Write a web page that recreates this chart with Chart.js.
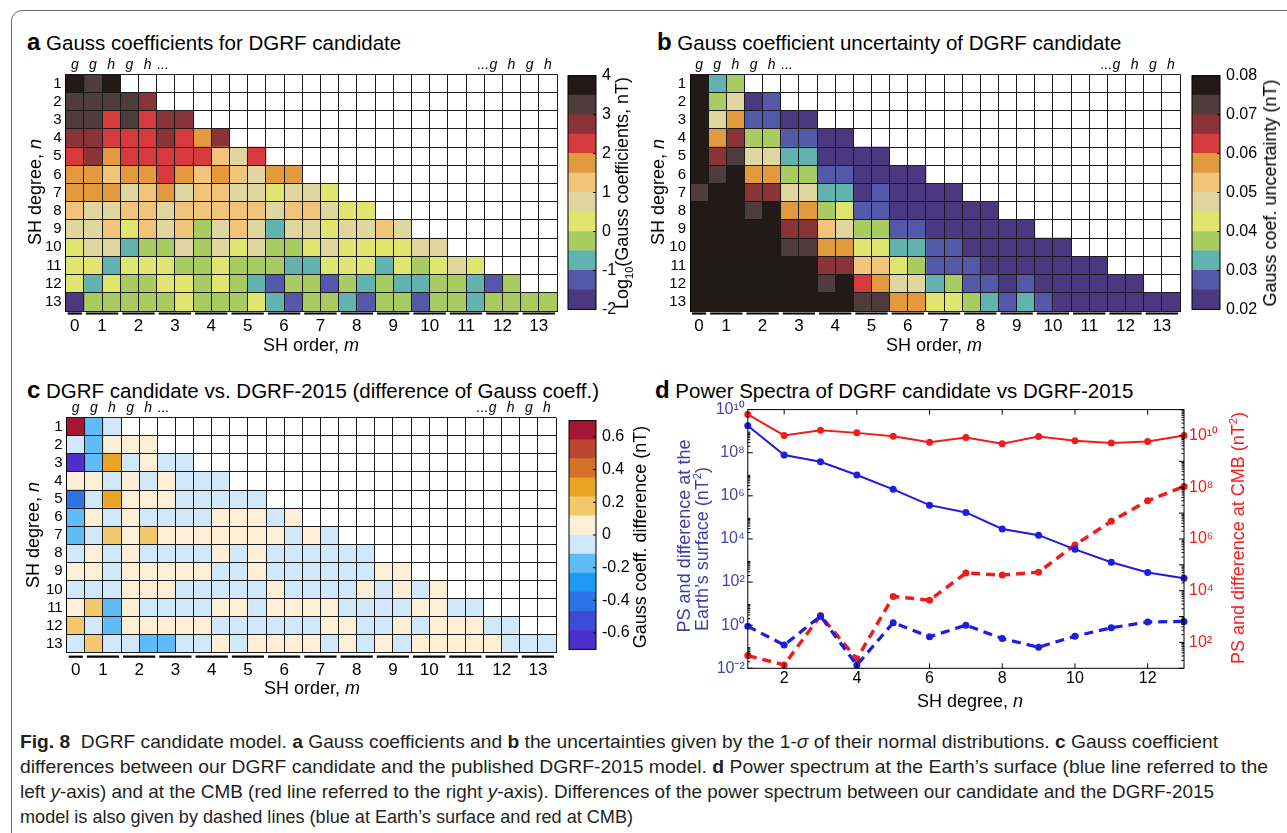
<!DOCTYPE html>
<html>
<head>
<meta charset="utf-8">
<script src="https://cdn.jsdelivr.net/npm/chart.js@4.4.1/dist/chart.umd.min.js"></script>
<style>
  html, body { margin: 0; padding: 0; }
  body { width: 1287px; height: 833px; position: relative; overflow: hidden; background: #fff;
         font-family: "Liberation Sans", Arial, sans-serif; color: #000; }
  .frame { position: absolute; left: 11px; top: 10px; width: 1400px; height: 1000px;
           border: 1px solid #6a6a6a; border-radius: 11px; }
  canvas { position: absolute; }
  .t { position: absolute; white-space: nowrap; line-height: 1; }
  .ttl { font-size: 20.5px; transform: translateY(-50%); }
  .ttl b { font-size: 24px; }
  .ax { font-size: 18px; }
  .ctr { transform: translate(-50%, -50%); }
  .rot { transform: translate(-50%, -50%) rotate(-90deg); }
  sub, sup { font-size: 0.62em; line-height: 0; }
  .cap { left: 20px; font-size: 19px; color: #231f20; transform-origin: 0 50%; transform: translateY(-50%); }
</style>
</head>
<body>
<div class="frame"></div>

<!-- panel titles -->
<div class="t ttl" style="left:27px;top:42px"><b>a</b> Gauss coefficients for DGRF candidate</div>
<div class="t ttl" style="left:657px;top:42px"><b>b</b> Gauss coefficient uncertainty of DGRF candidate</div>
<div class="t ttl" style="left:27px;top:390px"><b>c</b> DGRF candidate vs. DGRF-2015 (difference of Gauss coeff.)</div>
<div class="t ttl" style="left:655px;top:390px"><b>d</b> Power Spectra of DGRF candidate vs DGRF-2015</div>

<canvas id="hmA" width="560" height="300" style="left:0;top:50px"></canvas>
<canvas id="cbA" width="60" height="265" style="left:560px;top:60px"></canvas>
<canvas id="hmB" width="545" height="300" style="left:640px;top:50px"></canvas>
<canvas id="cbB" width="85" height="265" style="left:1185px;top:60px"></canvas>
<canvas id="hmC" width="560" height="297" style="left:0;top:393px"></canvas>
<canvas id="cbC" width="80" height="260" style="left:560px;top:405px"></canvas>
<canvas id="psD" width="647" height="320" style="left:640px;top:395px"></canvas>

<!-- axis titles -->
<div class="t ax rot" style="left:35px;top:192px">SH degree, <i>n</i></div>
<div class="t ax ctr" style="left:311px;top:345px">SH order, <i>m</i></div>
<div class="t ax rot" style="left:622px;top:193px">Log<sub>10</sub>(Gauss coefficients, nT)</div>

<div class="t ax rot" style="left:658px;top:192px">SH degree, <i>n</i></div>
<div class="t ax ctr" style="left:934px;top:345px">SH order, <i>m</i></div>
<div class="t ax rot" style="left:1270px;top:193px">Gauss coef. uncertainty (nT)</div>

<div class="t ax rot" style="left:33px;top:535px">SH degree, <i>n</i></div>
<div class="t ax ctr" style="left:312px;top:688px">SH order, <i>m</i></div>
<div class="t ax rot" style="left:640px;top:537px">Gauss coeff. difference (nT)</div>

<div class="t ax ctr" style="left:970px;top:701px">SH degree, <i>n</i></div>
<div class="t ax rot" style="left:684px;top:536px;color:#3e3ea5">PS and difference at the</div>
<div class="t ax rot" style="left:702px;top:549px;color:#3e3ea5">Earth’s surface (nT<sup>2</sup>)</div>
<div class="t ax rot" style="left:1238px;top:538px;color:#f02020">PS and difference at CMB (nT<sup>2</sup>)</div>

<!-- caption -->
<div class="t cap" data-w="1198" style="top:741px"><b>Fig. 8</b>&nbsp; DGRF candidate model. <b>a</b> Gauss coefficients and <b>b</b> the uncertainties given by the 1-<i>σ</i> of their normal distributions. <b>c</b> Gauss coefficient</div>
<div class="t cap" data-w="1248" style="top:766px">differences between our DGRF candidate and the published DGRF-2015 model. <b>d</b> Power spectrum at the Earth’s surface (blue line referred to the</div>
<div class="t cap" data-w="1194" style="top:791px">left <i>y</i>-axis) and at the CMB (red line referred to the right <i>y</i>-axis). Differences of the power spectrum between our candidate and the DGRF-2015</div>
<div class="t cap" data-w="613" style="top:816px">model is also given by dashed lines (blue at Earth’s surface and red at CMB)</div>

<script>
// rows are SH degree n = 1..13, columns g_n^0, g_n^1, h_n^1, ... g_n^n, h_n^n
const degreeLabels = ['1', '2', '3', '4', '5', '6', '7', '8', '9', '10', '11', '12', '13'];
const orders = [0, 1, 2, 3, 4, 5, 6, 7, 8, 9, 10, 11, 12, 13];
const nCols = 27;

// a: log10 |Gauss coefficient| (nT)
const gaussLog10 = [
  [3.7, 3.3, 3.7],
  [3.3, 3.3, 3.3, 3.3, 2.8],
  [3.3, 3.3, 2.3, 3.3, 2.3, 2.8, 2.8],
  [2.8, 2.8, 2.3, 2.3, 2.3, 2.8, 2.3, 1.8, 2.8],
  [2.3, 2.8, 1.8, 2.3, 2.3, 2.3, 2.3, 2.3, 1.2, 0.8, 2.3],
  [1.8, 1.8, 1.2, 1.8, 1.8, 2.3, 1.8, 1.2, 1.8, 1.2, 0.8, 1.8, 1.8],
  [1.8, 1.8, 1.8, 0.8, 1.2, 1.8, 0.8, 1.2, 1.2, 0.8, 0.8, 0.3, 0.8, 0.8, 0.3],
  [1.2, 0.8, 0.8, 1.2, 1.2, 0.8, 1.2, 1.2, 1.2, 1.2, 1.2, 0.8, 1.2, 1.2, 0.8, 0.3, 0.3],
  [0.8, 0.8, 1.2, 0.3, 1.2, 0.8, 1.2, -0.3, 0.8, 1.2, 0.8, -0.8, 0.8, 0.8, 0.3, 0.8, 0.8, 1.2, 0.8],
  [0.3, 0.8, 0.8, -0.8, -0.3, -0.3, 0.8, -0.3, 0.8, 0.3, 0.8, -0.3, -0.3, 0.3, 0.8, 0.3, 0.3, 0.3, 0.3, 0.8, 0.8],
  [0.3, 0.3, -0.8, 0.3, 0.3, 0.3, -0.3, -0.3, 0.3, -0.3, -0.3, -0.3, -0.8, -0.8, 0.3, 0.3, 0.3, -0.8, 0.3, -0.3, 0.3, 0.8, 0.3],
  [0.3, -0.8, 0.3, -0.3, -0.3, 0.3, 0.3, -0.3, 0.3, -0.3, -0.8, -1.2, -0.3, -0.3, -1.2, -0.3, -0.8, -0.3, -0.8, -0.8, -0.3, -0.3, -0.8, -1.2, -0.3],
  [-1.8, -0.3, -0.3, -0.3, -0.3, -0.3, 0.3, -0.3, -0.3, -0.3, 0.3, -0.8, -1.2, -0.3, -0.3, -0.8, -1.2, -0.3, -0.3, -1.2, -0.3, -0.3, -0.8, -0.3, -0.3, -0.3, -0.3]
];

// b: 1-sigma uncertainty (nT)
const gaussSigma = [
  [0.085, 0.032, 0.037],
  [0.085, 0.037, 0.047, 0.022, 0.027],
  [0.085, 0.047, 0.057, 0.027, 0.027, 0.022, 0.022],
  [0.085, 0.057, 0.067, 0.037, 0.037, 0.027, 0.027, 0.022, 0.022],
  [0.085, 0.067, 0.072, 0.047, 0.047, 0.032, 0.032, 0.022, 0.022, 0.022, 0.022],
  [0.085, 0.072, 0.085, 0.057, 0.057, 0.037, 0.037, 0.027, 0.027, 0.022, 0.022, 0.022, 0.022],
  [0.072, 0.085, 0.085, 0.067, 0.067, 0.047, 0.047, 0.032, 0.032, 0.022, 0.027, 0.022, 0.022, 0.022, 0.022],
  [0.085, 0.085, 0.085, 0.072, 0.085, 0.057, 0.057, 0.037, 0.042, 0.027, 0.027, 0.022, 0.022, 0.022, 0.022, 0.022, 0.022],
  [0.085, 0.085, 0.085, 0.085, 0.085, 0.067, 0.067, 0.052, 0.047, 0.037, 0.037, 0.027, 0.027, 0.022, 0.022, 0.022, 0.022, 0.022, 0.022],
  [0.085, 0.085, 0.085, 0.085, 0.085, 0.072, 0.072, 0.057, 0.057, 0.042, 0.042, 0.032, 0.032, 0.027, 0.027, 0.022, 0.022, 0.022, 0.022, 0.022, 0.022],
  [0.085, 0.085, 0.085, 0.085, 0.085, 0.085, 0.085, 0.067, 0.067, 0.052, 0.052, 0.042, 0.037, 0.027, 0.027, 0.027, 0.022, 0.022, 0.022, 0.022, 0.022, 0.022, 0.022],
  [0.085, 0.085, 0.085, 0.085, 0.085, 0.085, 0.085, 0.072, 0.085, 0.062, 0.057, 0.047, 0.047, 0.032, 0.037, 0.027, 0.027, 0.022, 0.027, 0.022, 0.022, 0.022, 0.022, 0.022, 0.022],
  [0.085, 0.085, 0.085, 0.085, 0.085, 0.085, 0.085, 0.085, 0.085, 0.072, 0.072, 0.057, 0.057, 0.042, 0.042, 0.037, 0.032, 0.027, 0.032, 0.027, 0.022, 0.022, 0.022, 0.022, 0.022, 0.022, 0.022]
];

// c: candidate minus DGRF-2015 (nT)
const gaussDiff = [
  [0.64, -0.17, -0.05],
  [-0.05, -0.17, 0.05, 0.05, 0.05],
  [-0.64, -0.17, 0.29, -0.05, 0.05, -0.05, -0.05],
  [0.05, 0.05, -0.05, 0.05, -0.05, 0.05, -0.05, -0.05, -0.05],
  [-0.41, -0.05, 0.29, 0.05, 0.05, 0.05, -0.05, -0.05, -0.05, -0.05, -0.05],
  [-0.17, 0.05, -0.05, 0.05, -0.05, -0.05, -0.05, -0.05, 0.05, 0.05, 0.05, -0.05, 0.05],
  [-0.17, -0.05, 0.17, 0.05, 0.17, 0.05, 0.05, 0.05, 0.05, 0.05, 0.05, 0.05, -0.05, 0.05, -0.05],
  [-0.05, 0.05, -0.05, 0.05, -0.05, -0.05, -0.05, -0.05, 0.05, -0.05, 0.05, -0.05, -0.05, -0.05, -0.05, -0.05, -0.05],
  [0.05, 0.05, -0.05, 0.05, 0.05, 0.05, 0.05, 0.05, -0.05, -0.05, 0.05, -0.05, -0.05, -0.05, -0.05, -0.05, -0.05, 0.05, 0.05],
  [-0.05, -0.05, -0.05, 0.05, 0.05, 0.05, -0.05, -0.05, -0.05, -0.05, -0.05, 0.05, -0.05, -0.05, -0.05, -0.05, 0.05, -0.05, 0.05, -0.05, 0.05],
  [0.05, 0.17, -0.17, 0.05, -0.05, -0.05, -0.05, -0.05, 0.05, 0.05, -0.05, 0.05, 0.05, 0.05, 0.05, -0.05, -0.05, -0.05, -0.05, 0.05, 0.05, -0.05, -0.05],
  [0.17, -0.05, -0.17, 0.05, 0.05, 0.05, 0.05, 0.05, -0.05, -0.05, -0.05, -0.05, -0.05, -0.05, 0.05, 0.05, -0.05, -0.05, 0.05, -0.05, 0.05, 0.05, 0.05, -0.05, -0.05],
  [-0.05, 0.17, -0.05, -0.05, -0.17, -0.17, -0.05, -0.05, 0.05, -0.05, 0.05, 0.05, 0.05, 0.05, -0.05, 0.05, -0.05, 0.05, -0.05, 0.05, 0.05, 0.05, 0.05, 0.05, -0.05, -0.05, -0.05]
];

// d: power spectra (nT^2)
const spectrumDegrees = [1, 2, 3, 4, 5, 6, 7, 8, 9, 10, 11, 12, 13];
const psSurface = [1.8e9, 7.8e7, 3.8e7, 9.3e6, 2.0e6, 3.7e5, 1.7e5, 2.9e4, 1.5e4, 3.3e3, 830, 280, 150];
const psSurfaceDiff = [0.89, 0.12, 2.6, 0.014, 1.3, 0.29, 1.0, 0.24, 0.095, 0.31, 0.76, 1.4, 1.5];
const psCmb = [6.5e10, 1.0e10, 1.6e10, 1.26e10, 9.3e9, 5.5e9, 8.3e9, 4.8e9, 9.1e9, 6.2e9, 5.1e9, 5.8e9, 1.0e10];
const psCmbDiff = [31, 13.5, 1.1e3, 23, 6.0e3, 4.3e3, 4.8e4, 4.0e4, 5.2e4, 5.9e5, 4.8e6, 3.0e7, 1.07e8];

// colour scales
const logLevels = [-2, -1.5, -1, -0.5, 0, 0.5, 1, 1.5, 2, 2.5, 3, 3.5, 4];
const sigmaLevels = [0.02, 0.025, 0.03, 0.035, 0.04, 0.045, 0.05, 0.055, 0.06, 0.065, 0.07, 0.075, 0.08];
const diffLevels = [-0.7, -0.583, -0.467, -0.35, -0.233, -0.117, 0, 0.117, 0.233, 0.35, 0.467, 0.583, 0.7];
const seqPalette = ['#4a3880', '#5458a8', '#62b3b0', '#a8cb62', '#dfe56e', '#e0d6a0',
                    '#f0c47a', '#e39a3e', '#d63a3c', '#8a3338', '#4f3c3c', '#231a18'];
const divPalette = ['#4c2fcc', '#3c4cd8', '#2a72e6', '#1f9af2', '#60bcf8', '#d0e8fa',
                    '#fcefd6', '#f2c86c', '#e8a422', '#d4702a', '#bd4630', '#a41634'];

Chart.defaults.font.family = '"Liberation Sans", Arial, sans-serif';
Chart.defaults.color = '#000';

function levelColor(v, levels, pal) {
  let k = 0;
  while (k < pal.length - 1 && v >= levels[k + 1]) k++;
  return pal[k];
}

const orderPos = orders.map(m => m === 0 ? 0.5 : 2 * m);
const orderSpans = orders.map(m => m === 0 ? [0, 1] : [2 * m - 1, 2 * m + 1]);
const coefPos = [0.5, 1.5, 2.5, 3.5, 4.5, 5.35, 22.95, 23.5, 24.5, 25.5, 26.5];
const coefText = ['g', 'g', 'h', 'g', 'h', '...', '...', 'g', 'h', 'g', 'h'];

// black bars under each order group
const orderBars = {
  id: 'orderBars',
  afterDraw(chart, args, opts) {
    const x = chart.scales.x, ctx = chart.ctx;
    const y = chart.chartArea.bottom + opts.gap;
    ctx.save();
    ctx.strokeStyle = '#000';
    ctx.lineWidth = 2.2;
    orderSpans.forEach(([a, b]) => {
      ctx.beginPath();
      ctx.moveTo(x.getPixelForValue(a) + 2, y);
      ctx.lineTo(x.getPixelForValue(b) - 2, y);
      ctx.stroke();
    });
    ctx.restore();
  }
};

function heatmap(id, rows, levels, pal, g) {
  const datasets = [];
  for (let j = 0; j < nCols; j++) {
    datasets.push({
      data: rows.map(r => j < r.length ? [j, j + 1] : null),
      backgroundColor: rows.map(r => j < r.length ? levelColor(r[j], levels, pal) : 'rgba(0,0,0,0)'),
      borderWidth: 0,
      grouped: false,
      barPercentage: 1,
      categoryPercentage: 1
    });
  }
  const edges = [];
  for (let j = 0; j <= nCols; j++) edges.push({ value: j });
  return new Chart(document.getElementById(id), {
    type: 'bar',
    data: { labels: degreeLabels, datasets },
    options: {
      indexAxis: 'y',
      responsive: false,
      animation: false,
      layout: { padding: { left: 0, top: 0, right: g.right, bottom: 0 } },
      plugins: { legend: { display: false }, tooltip: { enabled: false }, orderBars: { gap: g.gap } },
      scales: {
        x: {
          type: 'linear', min: 0, max: nCols, position: 'bottom',
          ticks: { display: false },
          grid: { color: '#1a1a1a', lineWidth: 1, drawTicks: false, z: 1 },
          border: { color: '#000', z: 1 },
          afterBuildTicks: s => { s.ticks = edges.slice(); },
          afterFit: s => { s.height = 0; }
        },
        xm: {
          type: 'linear', min: 0, max: nCols, position: 'bottom',
          grid: { display: false, drawTicks: false }, border: { display: false },
          ticks: { autoSkip: false, maxRotation: 0, padding: g.mPad, font: { size: 17 },
                   callback: (v, i) => String(orders[i]) },
          afterBuildTicks: s => { s.ticks = orderPos.map(v => ({ value: v })); },
          afterFit: s => { s.height = g.bottom; }
        },
        xt: {
          type: 'linear', min: 0, max: nCols, position: 'top',
          grid: { display: false, drawTicks: false }, border: { display: false },
          ticks: { autoSkip: false, maxRotation: 0, padding: 1, font: { size: 14, style: 'italic' },
                   callback: (v, i) => coefText[i] },
          afterBuildTicks: s => { s.ticks = coefPos.map(v => ({ value: v })); },
          afterFit: s => { s.height = g.top; }
        },
        y: {
          type: 'category', offset: true,
          grid: { offset: true, color: '#1a1a1a', lineWidth: 1, drawTicks: false, z: 1 },
          border: { color: '#000', z: 1 },
          ticks: { autoSkip: false, padding: 4, font: { size: 15 } },
          afterFit: s => { s.width = g.left; }
        }
      }
    },
    plugins: [orderBars]
  });
}

// frame + small inner ticks for the colour bars
const barFrame = {
  id: 'barFrame',
  afterDraw(chart) {
    const { ctx, chartArea: a } = chart;
    const y = chart.scales.y;
    ctx.save();
    ctx.strokeStyle = '#000';
    ctx.lineWidth = 1;
    ctx.strokeRect(a.left, a.top, a.right - a.left, a.bottom - a.top);
    ctx.beginPath();
    y.ticks.forEach(t => {
      const p = y.getPixelForValue(t.value);
      ctx.moveTo(a.right - 3, p);
      ctx.lineTo(a.right, p);
    });
    ctx.stroke();
    ctx.restore();
  }
};

function colorbar(id, levels, pal, tickVals, fmt, g) {
  return new Chart(document.getElementById(id), {
    type: 'bar',
    data: {
      labels: [''],
      datasets: pal.map((c, i) => ({
        data: [[levels[i], levels[i + 1]]],
        backgroundColor: c, borderWidth: 0,
        grouped: false, barPercentage: 1, categoryPercentage: 1
      }))
    },
    options: {
      responsive: false,
      animation: false,
      layout: { padding: { left: g.left, top: g.top, bottom: g.bottom, right: 0 } },
      plugins: { legend: { display: false }, tooltip: { enabled: false } },
      scales: {
        x: { display: false },
        y: {
          position: 'right', min: levels[0], max: levels[levels.length - 1],
          grid: { display: false, drawTicks: false }, border: { display: false },
          ticks: { padding: 6, font: { size: 16 }, callback: v => fmt(v) },
          afterBuildTicks: s => { s.ticks = tickVals.map(v => ({ value: v })); },
          afterFit: s => { s.width = g.width; }
        }
      }
    },
    plugins: [barFrame]
  });
}

heatmap('hmA', gaussLog10, logLevels, seqPalette, { left: 65.7, top: 24.3, bottom: 39, right: 3, mPad: 5.5, gap: 2.5 });
heatmap('hmB', gaussSigma, sigmaLevels, seqPalette, { left: 50, top: 24.3, bottom: 39, right: 5, mPad: 5.5, gap: 2.5 });
heatmap('hmC', gaussDiff, diffLevels, divPalette, { left: 66.7, top: 24.7, bottom: 37.3, right: 4, mPad: 7, gap: 4 });

colorbar('cbA', logLevels, seqPalette, [-2, -1, 0, 1, 2, 3, 4], v => String(v),
         { left: 8, top: 14.3, bottom: 14, width: 24 });
colorbar('cbB', sigmaLevels, seqPalette, [0.02, 0.03, 0.04, 0.05, 0.06, 0.07, 0.08], v => v.toFixed(2),
         { left: 7, top: 14.3, bottom: 14, width: 50 });
colorbar('cbC', diffLevels, divPalette, [-0.6, -0.4, -0.2, 0, 0.2, 0.4, 0.6], v => v === 0 ? '0' : v.toFixed(1),
         { left: 9, top: 12.7, bottom: 12.3, width: 44 });

// ---- d: power spectra ----
const SUP = { '-': '⁻', '0': '⁰', '1': '¹', '2': '²', '3': '³', '4': '⁴', '5': '⁵', '6': '⁶', '7': '⁷', '8': '⁸', '9': '⁹' };
const pow10Label = e => '10' + String(e).split('').map(c => SUP[c]).join('');
const leftDecades = [-2, -1, 0, 1, 2, 3, 4, 5, 6, 7, 8, 9, 10];
const rightDecades = [1, 2, 3, 4, 5, 6, 7, 8, 9, 10, 11];
const pts = vals => spectrumDegrees.map((n, i) => ({ x: n, y: vals[i] }));

const boxTicks = {
  id: 'boxTicks',
  afterDatasetsDraw(chart) {
    const { ctx, chartArea: a, scales } = chart;
    ctx.save();
    ctx.strokeStyle = '#000';
    ctx.lineWidth = 1;
    ctx.strokeRect(a.left, a.top, a.right - a.left, a.bottom - a.top);
    ctx.beginPath();
    scales.x.ticks.forEach(t => {
      const p = scales.x.getPixelForValue(t.value);
      ctx.moveTo(p, a.bottom); ctx.lineTo(p, a.bottom - 5);
      ctx.moveTo(p, a.top); ctx.lineTo(p, a.top + 5);
    });
    const minor = (scale, edge, dir) => {
      scale.ticks.forEach(t => {
        const p = scale.getPixelForValue(t.value);
        ctx.moveTo(edge, p); ctx.lineTo(edge + dir * 5, p);
        for (let k = 2; k <= 9; k++) {
          const v = t.value * k;
          if (v >= scale.max) break;
          const q = scale.getPixelForValue(v);
          ctx.moveTo(edge, q); ctx.lineTo(edge + dir * 2.5, q);
        }
      });
    };
    minor(scales.yL, a.left, 1);
    minor(scales.yR, a.right, -1);
    ctx.stroke();
    ctx.restore();
  }
};

const blue = '#1c1ce4', red = '#f01c1c';
new Chart(document.getElementById('psD'), {
  type: 'line',
  data: {
    datasets: [
      { data: pts(psSurface), yAxisID: 'yL', borderColor: blue, backgroundColor: blue, borderWidth: 2,
        pointRadius: 3.5, pointBorderWidth: 0, clip: false },
      { data: pts(psSurfaceDiff), yAxisID: 'yL', borderColor: blue, backgroundColor: blue, borderWidth: 3.2,
        borderDash: [9, 6], pointRadius: 3.5, pointBorderWidth: 0, clip: false },
      { data: pts(psCmb), yAxisID: 'yR', borderColor: red, backgroundColor: red, borderWidth: 2,
        pointRadius: 3.5, pointBorderWidth: 0, clip: false },
      { data: pts(psCmbDiff), yAxisID: 'yR', borderColor: red, backgroundColor: red, borderWidth: 3.5,
        borderDash: [9, 6], pointRadius: 3.5, pointBorderWidth: 0, clip: false }
    ]
  },
  options: {
    responsive: false,
    animation: false,
    layout: { padding: { left: 0, top: 13.3, right: 0, bottom: 0 } },
    plugins: { legend: { display: false }, tooltip: { enabled: false } },
    scales: {
      x: {
        type: 'linear', min: 1, max: 13,
        grid: { display: false, drawTicks: false }, border: { display: false },
        ticks: { padding: 1, font: { size: 16 } },
        afterBuildTicks: s => { s.ticks = [2, 4, 6, 8, 10, 12].map(v => ({ value: v })); },
        afterFit: s => { s.height = 46.7; }
      },
      yL: {
        type: 'logarithmic', position: 'left', min: 1e-2, max: 1e10,
        grid: { display: false, drawTicks: false }, border: { display: false },
        ticks: { padding: 3, color: '#4545a8', font: { size: 16 },
                 callback: v => { const e = Math.round(Math.log10(v)); return e % 2 === 0 ? pow10Label(e) : ''; } },
        afterBuildTicks: s => { s.ticks = leftDecades.map(e => ({ value: Math.pow(10, e) })); },
        afterFit: s => { s.width = 107.8; }
      },
      yR: {
        type: 'logarithmic', position: 'right', min: 10, max: 1e11,
        grid: { display: false, drawTicks: false }, border: { display: false },
        ticks: { padding: 5, color: red, font: { size: 16 },
                 callback: v => { const e = Math.round(Math.log10(v)); return (e % 2 === 0 && e < 11) ? pow10Label(e) : ''; } },
        afterBuildTicks: s => { s.ticks = rightDecades.map(e => ({ value: Math.pow(10, e) })); },
        afterFit: s => { s.width = 103; }
      }
    }
  },
  plugins: [boxTicks]
});

// squeeze caption lines to the measured widths of the reference
document.querySelectorAll('.cap').forEach(el => {
  const w = el.getBoundingClientRect().width;
  const target = Number(el.dataset.w);
  el.style.transform = 'translateY(-50%) scaleX(' + (target / w) + ')';
});
</script>
</body>
</html>
